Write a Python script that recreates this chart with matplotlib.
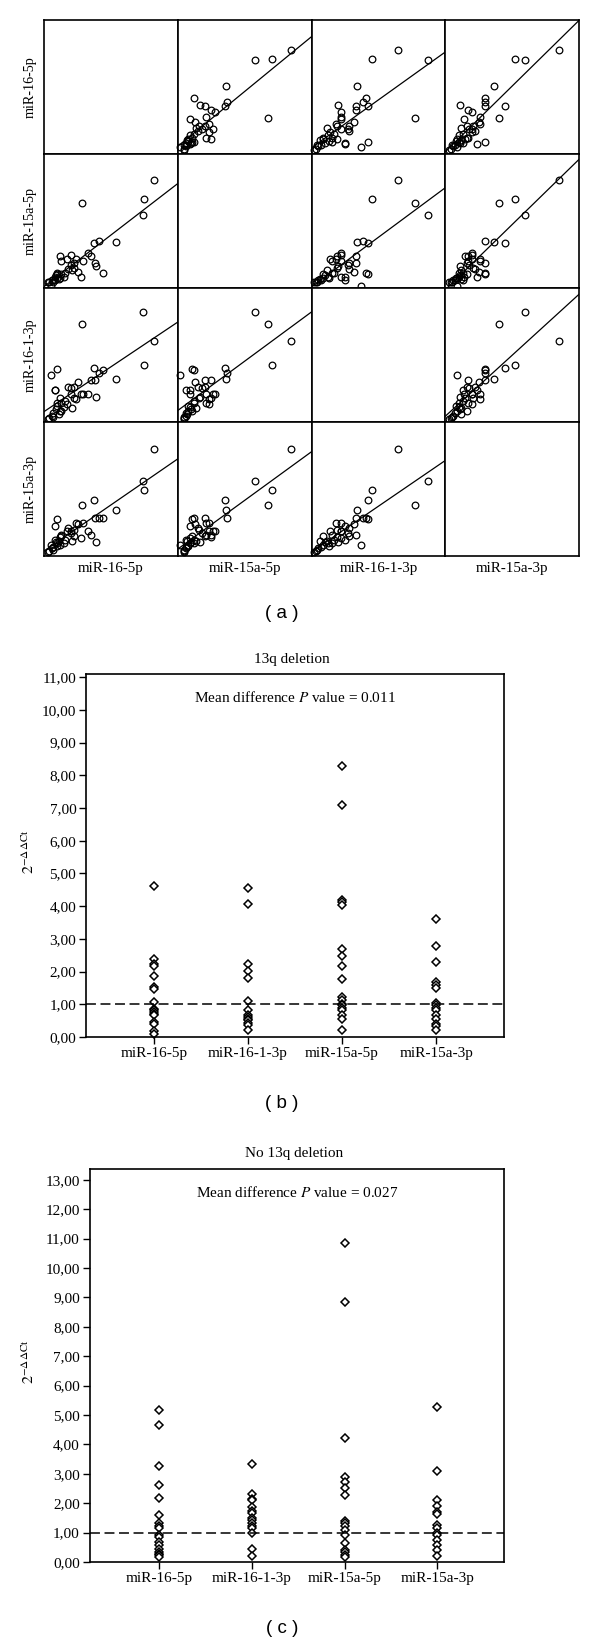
import numpy as np
import matplotlib.pyplot as plt

plt.rcParams['font.family'] = ['Liberation Serif', 'DejaVu Serif']
plt.rcParams['mathtext.fontset'] = 'stix'

# (a) scatter matrix, one value per sample and miRNA
mir_names = ['miR-16-5p', 'miR-15a-5p', 'miR-16-1-3p', 'miR-15a-3p']
mir16_5p = [5.18, 4.67, 1.77, 4.72, 3.40, 2.37, 2.57, 2.77, 2.21, 1.83, 1.58,
            1.51, 1.26, 1.10, 0.76, 0.82, 1.76, 2.39, 2.46, 0.60, 0.35, 0.54,
            0.50, 1.13, 1.26, 1.39, 2.08, 1.39, 1.32, 0.95, 0.76, 0.44, 0.44,
            0.25, 0.38, 0.57, 0.63, 1.01, 0.82, 0.69, 0.60, 0.19]
mir15a_5p = [10.80, 7.33, 8.53, 8.98, 4.61, 4.48, 4.70, 1.52, 3.18, 2.67, 1.65,
             2.92, 3.30, 2.92, 3.18, 2.67, 1.14, 2.54, 2.16, 1.40, 0.25, 0.83,
             1.14, 1.91, 2.29, 2.54, 3.56, 2.03, 1.78, 1.14, 1.02, 0.76, 0.64,
             0.57, 0.76, 1.27, 1.02, 1.52, 1.40, 0.89, 1.52, 0.57]
mir16_1_3p = [3.38, 4.56, 4.08, 2.36, 1.80, 2.23, 2.03, 2.15, 1.73, 1.16, 1.68,
              0.95, 1.16, 0.74, 1.00, 0.79, 1.16, 1.73, 1.05, 2.20, 1.94, 1.31,
              1.31, 1.47, 1.42, 1.47, 1.16, 1.00, 0.60, 0.63, 0.45, 0.39, 0.21,
              0.16, 0.26, 0.53, 0.68, 0.89, 0.47, 0.32, 0.79, 0.11]
mir15a_3p = [5.31, 3.73, 2.50, 3.25, 2.29, 2.79, 1.88, 1.88, 1.06, 1.63, 1.56,
             1.63, 1.25, 1.25, 0.94, 1.06, 0.88, 1.88, 0.69, 1.84, 0.56, 0.81,
             1.50, 1.38, 1.13, 1.00, 1.25, 1.31, 0.75, 0.63, 0.56, 0.44, 0.31,
             0.25, 0.38, 0.69, 0.50, 0.81, 1.00, 0.75, 0.63, 0.19]
matrix_data = [mir16_5p, mir15a_5p, mir16_1_3p, mir15a_3p]
axis_max = [6.3, 12.7, 5.25, 6.25]

# (b) and (c) 2^-ddCt per miRNA
strip_names = ['miR-16-5p', 'miR-16-1-3p', 'miR-15a-5p', 'miR-15a-3p']
del_16_5p = [4.62, 2.38, 2.24, 2.16, 1.86, 1.53, 1.48, 1.06, 0.87, 0.82, 0.76,
             0.71, 0.66, 0.45, 0.40, 0.18, 0.10]
del_16_1_3p = [4.56, 4.07, 2.23, 2.02, 1.81, 1.11, 0.82, 0.68, 0.61, 0.56, 0.51,
               0.43, 0.36, 0.20]
del_15a_5p = [8.30, 7.08, 4.20, 4.12, 4.05, 2.70, 2.48, 2.16, 1.76, 1.22, 1.12,
              1.02, 0.97, 0.90, 0.82, 0.66, 0.56, 0.20]
del_15a_3p = [3.62, 2.79, 2.28, 1.67, 1.58, 1.51, 1.05, 0.97, 0.90, 0.82, 0.66,
              0.56, 0.41, 0.33, 0.20]
nodel_16_5p = [5.18, 4.67, 3.28, 2.61, 2.19, 1.59, 1.31, 1.22, 1.14, 0.91, 0.85,
               0.68, 0.57, 0.45, 0.34, 0.28, 0.23, 0.17]
nodel_16_1_3p = [3.34, 2.33, 2.16, 2.10, 1.88, 1.73, 1.67, 1.51, 1.42, 1.33,
                 1.22, 1.14, 0.97, 0.45, 0.20]
nodel_15a_5p = [10.85, 8.85, 4.23, 2.88, 2.73, 2.52, 2.27, 1.39, 1.31, 1.22,
                1.10, 0.91, 0.63, 0.42, 0.34, 0.23, 0.17]
nodel_15a_3p = [5.29, 3.08, 2.10, 1.90, 1.70, 1.63, 1.27, 1.14, 0.99, 0.93, 0.76,
                0.57, 0.40, 0.19]

W, H = 600, 1644
fig = plt.figure(figsize=(W / 100, H / 100), dpi=100)


def px_axes(left, top, w, h):
    return fig.add_axes([left / W, 1 - (top + h) / H, w / W, h / H])


def px_text(x, y, s, **kw):
    fig.text(x / W, 1 - y / H, s, ha='center', va='center', **kw)


# ---- (a) ----
cell = 133.75
for r in range(4):
    for c in range(4):
        ax = px_axes(44 + c * cell, 20 + r * 134, cell, 134)
        ax.set_xticks([])
        ax.set_yticks([])
        for sp in ax.spines.values():
            sp.set_linewidth(1.2)
        ax.set_xlim(0, axis_max[c])
        ax.set_ylim(0, axis_max[r] * 1.06)
        if r == c:
            continue
        x = np.array(matrix_data[c])
        y = np.array(matrix_data[r])
        ax.plot(x, y, 'o', ms=4.8, mfc='none', mec='k', mew=0.9, clip_on=False)
        k, b0 = np.polyfit(x, y, 1)
        xx = np.array([0, axis_max[c]])
        ax.plot(xx, b0 + k * xx, 'k-', lw=0.9)

for i, name in enumerate(mir_names):
    px_text(30, 20 + i * 134 + 67, name, rotation=90, fontsize=10.2)
    px_text(44 + i * cell + cell / 2, 568, name, fontsize=10.8)
px_text(282, 613, '( a )', family='Liberation Sans', fontsize=13.5)


# ---- (b), (c) ----
def strip_panel(box, groups, ymax, ytop, title, note, letter_y, letter):
    ax = px_axes(*box)
    for i, vals in enumerate(groups):
        ax.plot(np.full(len(vals), i + 1), vals, 'D', ms=4.2, mfc='white',
                mec='k', mew=1.1, clip_on=False)
    ax.axhline(1.0, color='k', lw=1.1, ls=(0, (6.5, 3)))
    ax.set_xlim(0.25 if ymax > 12 else 0.28, 4.72)
    ax.set_ylim(0, ytop)
    ax.set_yticks(range(ymax + 1))
    ax.set_yticklabels(['%d,00' % v for v in range(ymax + 1)], fontsize=11)
    ax.set_xticks(range(1, 5))
    ax.set_xticklabels(strip_names, fontsize=11)
    ax.tick_params(direction='out', length=5, width=1.0, pad=2)
    for sp in ax.spines.values():
        sp.set_linewidth(1.2)
    left, top, w, h = box
    px_text(left + w / 2 - 3, top - 15, title, fontsize=11)
    ax.text(0.5, 1 - 23 / h, note, transform=ax.transAxes, ha='center',
            va='center', fontsize=11)
    px_text(30, top + h / 2 - 4, r'$2^{-\Delta\Delta\mathrm{Ct}}$', rotation=90,
            fontsize=11.5)
    px_text(282, letter_y, letter, family='Liberation Sans', fontsize=13.5)


strip_panel((86, 674, 418, 363),
            [del_16_5p, del_16_1_3p, del_15a_5p, del_15a_3p], 11, 11.1,
            '13q deletion', r'Mean difference $P$ value = 0.011', 1104, '( b )')
strip_panel((89.5, 1169, 414.5, 393),
            [nodel_16_5p, nodel_16_1_3p, nodel_15a_5p, nodel_15a_3p], 13, 13.37,
            'No 13q deletion', r'Mean difference $P$ value = 0.027', 1628, '( c )')

fig.savefig('out.png', dpi=100)
